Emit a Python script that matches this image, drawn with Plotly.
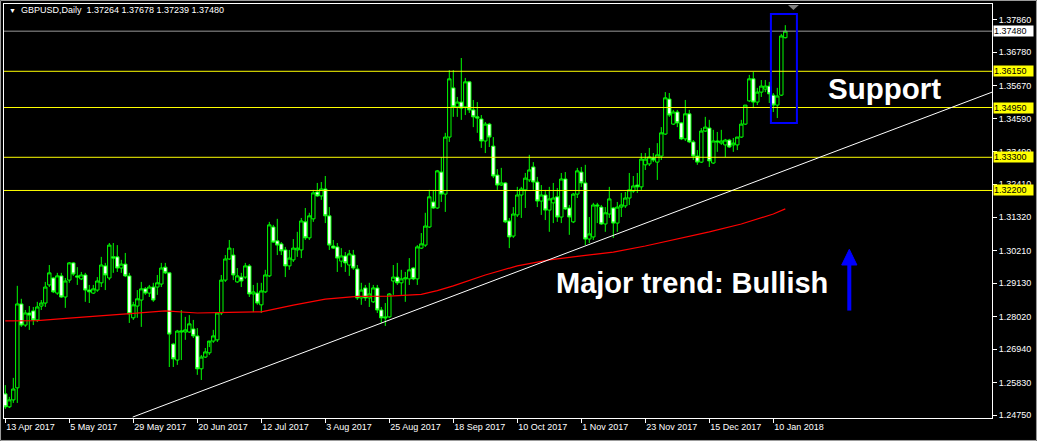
import pandas as pd
import plotly.graph_objects as go

symbol = "GBPUSD"
timeframe = "Daily"
start_date = "2017-04-13"
holidays = ["2017-12-25", "2018-01-01"]

opens = [1.2546, 1.2503, 1.2526, 1.2566, 1.2844, 1.2774, 1.2814, 1.2821, 1.2791, 1.2837,
         1.2847, 1.2907, 1.2930, 1.2880, 1.2937, 1.2867, 1.2923, 1.2980, 1.2937, 1.2927,
         1.2940, 1.2890, 1.2880, 1.2890, 1.2914, 1.2970, 1.2930, 1.3000, 1.3000, 1.2963,
         1.2976, 1.2937, 1.2798, 1.2837, 1.2857, 1.2894, 1.2880, 1.2900, 1.2900, 1.2910,
         1.2966, 1.2947, 1.2711, 1.2658, 1.2751, 1.2751, 1.2751, 1.2761, 1.2738, 1.2629,
         1.2668, 1.2682, 1.2721, 1.2725, 1.2814, 1.2923, 1.2993, 1.3006, 1.2917, 1.2933,
         1.2933, 1.2970, 1.2877, 1.2880, 1.2841, 1.2884, 1.2937, 1.3099, 1.3053, 1.3043,
         1.3023, 1.2970, 1.2990, 1.3023, 1.3023, 1.3116, 1.3063, 1.3126, 1.3215, 1.3202,
         1.3225, 1.3136, 1.3036, 1.3033, 1.2986, 1.3003, 1.2973, 1.3006, 1.2960, 1.2864,
         1.2897, 1.2864, 1.2851, 1.2897, 1.2824, 1.2801, 1.2801, 1.2920, 1.2933, 1.2914,
         1.2927, 1.2927, 1.2963, 1.2927, 1.3029, 1.3039, 1.3099, 1.3182, 1.3162, 1.3281,
         1.3208, 1.3397, 1.3560, 1.3497, 1.3513, 1.3497, 1.3580, 1.3487, 1.3464, 1.3457,
         1.3384, 1.3440, 1.3367, 1.3271, 1.3238, 1.3245, 1.3119, 1.3069, 1.3139, 1.3205,
         1.3222, 1.3255, 1.3298, 1.3248, 1.3185, 1.3205, 1.3155, 1.3179, 1.3199, 1.3132,
         1.3258, 1.3162, 1.3116, 1.3208, 1.3281, 1.3245, 1.3059, 1.3066, 1.3172, 1.3165,
         1.3109, 1.3142, 1.3162, 1.3112, 1.3165, 1.3169, 1.3195, 1.3218, 1.3238, 1.3232,
         1.3305, 1.3308, 1.3328, 1.3314, 1.3334, 1.3407, 1.3523, 1.3440, 1.3480, 1.3444,
         1.3391, 1.3474, 1.3381, 1.3334, 1.3314, 1.3417, 1.3427, 1.3311, 1.3384, 1.3377,
         1.3371, 1.3387, 1.3371, 1.3371, 1.3397, 1.3440, 1.3517, 1.3590, 1.3513, 1.3546,
         1.3556, 1.3566, 1.3536, 1.3503, 1.3536, 1.37264]

highs = [1.2575, 1.2536, 1.2599, 1.2904, 1.2861, 1.2824, 1.2837, 1.2834, 1.2851, 1.2857,
         1.2917, 1.2973, 1.2933, 1.2947, 1.2947, 1.2930, 1.2983, 1.2983, 1.2966, 1.2950,
         1.2947, 1.2907, 1.2907, 1.2933, 1.3000, 1.2980, 1.3046, 1.3046, 1.3039, 1.2990,
         1.3013, 1.2947, 1.2851, 1.2890, 1.2917, 1.2900, 1.2907, 1.2914, 1.2940, 1.2980,
         1.2980, 1.2950, 1.2715, 1.2758, 1.2824, 1.2801, 1.2807, 1.2791, 1.2764, 1.2675,
         1.2698, 1.2701, 1.2758, 1.2817, 1.2940, 1.3006, 1.3056, 1.3029, 1.2963, 1.2947,
         1.2980, 1.2976, 1.2907, 1.2914, 1.2914, 1.2957, 1.3116, 1.3106, 1.3126, 1.3049,
         1.3033, 1.3023, 1.3059, 1.3083, 1.3129, 1.3162, 1.3146, 1.3222, 1.3245, 1.3248,
         1.3268, 1.3165, 1.3056, 1.3046, 1.3029, 1.3016, 1.3023, 1.3023, 1.2973, 1.2914,
         1.2907, 1.2914, 1.2907, 1.2907, 1.2834, 1.2847, 1.2880, 1.2973, 1.2980, 1.2957,
         1.2950, 1.2996, 1.2966, 1.3039, 1.3079, 1.3146, 1.3222, 1.3222, 1.3288, 1.3331,
         1.3411, 1.3619, 1.3619, 1.3530, 1.3659, 1.3593, 1.3583, 1.3520, 1.3513, 1.3470,
         1.3447, 1.3444, 1.3397, 1.3291, 1.3295, 1.3248, 1.3129, 1.3165, 1.3232, 1.3232,
         1.3278, 1.3338, 1.3314, 1.3265, 1.3238, 1.3222, 1.3232, 1.3245, 1.3228, 1.3278,
         1.3281, 1.3172, 1.3212, 1.3295, 1.3298, 1.3305, 1.3132, 1.3179, 1.3179, 1.3172,
         1.3165, 1.3232, 1.3165, 1.3182, 1.3212, 1.3215, 1.3278, 1.3268, 1.3278, 1.3344,
         1.3344, 1.3361, 1.3344, 1.3377, 1.3430, 1.3546, 1.3543, 1.3487, 1.3487, 1.3447,
         1.3520, 1.3487, 1.3387, 1.3354, 1.3427, 1.3464, 1.3454, 1.3421, 1.3414, 1.3421,
         1.3391, 1.3391, 1.3394, 1.3397, 1.3454, 1.3503, 1.3603, 1.3613, 1.3560, 1.3586,
         1.3586, 1.3580, 1.3543, 1.3560, 1.3739, 1.37678]

lows = [1.2496, 1.2499, 1.2516, 1.2516, 1.2768, 1.2768, 1.2758, 1.2774, 1.2784, 1.2824,
        1.2834, 1.2900, 1.2880, 1.2874, 1.2864, 1.2831, 1.2914, 1.2937, 1.2907, 1.2923,
        1.2851, 1.2847, 1.2877, 1.2884, 1.2900, 1.2890, 1.2923, 1.2947, 1.2950, 1.2947,
        1.2933, 1.2781, 1.2791, 1.2798, 1.2768, 1.2874, 1.2867, 1.2851, 1.2874, 1.2900,
        1.2943, 1.2635, 1.2635, 1.2642, 1.2658, 1.2725, 1.2748, 1.2731, 1.2609, 1.2592,
        1.2665, 1.2675, 1.2715, 1.2718, 1.2807, 1.2917, 1.2990, 1.2923, 1.2914, 1.2900,
        1.2927, 1.2867, 1.2817, 1.2841, 1.2814, 1.2880, 1.2933, 1.3046, 1.3006, 1.3006,
        1.2933, 1.2957, 1.2983, 1.3000, 1.2996, 1.3056, 1.3056, 1.3116, 1.3199, 1.3189,
        1.3112, 1.3023, 1.3026, 1.2950, 1.2966, 1.2950, 1.2937, 1.2957, 1.2857, 1.2841,
        1.2854, 1.2834, 1.2847, 1.2814, 1.2781, 1.2771, 1.2798, 1.2874, 1.2907, 1.2874,
        1.2851, 1.2907, 1.2923, 1.2907, 1.3026, 1.3033, 1.3096, 1.3159, 1.3159, 1.3182,
        1.3149, 1.3381, 1.3464, 1.3464, 1.3454, 1.3470, 1.3477, 1.3430, 1.3411, 1.3361,
        1.3344, 1.3364, 1.3261, 1.3222, 1.3235, 1.3112, 1.3029, 1.3063, 1.3132, 1.3129,
        1.3162, 1.3248, 1.3222, 1.3165, 1.3139, 1.3122, 1.3083, 1.3112, 1.3116, 1.3112,
        1.3155, 1.3073, 1.3112, 1.3195, 1.3232, 1.3039, 1.3046, 1.3056, 1.3112, 1.3106,
        1.3083, 1.3129, 1.3063, 1.3083, 1.3132, 1.3162, 1.3172, 1.3212, 1.3212, 1.3222,
        1.3288, 1.3301, 1.3314, 1.3255, 1.3321, 1.3404, 1.3464, 1.3437, 1.3430, 1.3387,
        1.3384, 1.3377, 1.3321, 1.3305, 1.3311, 1.3414, 1.3298, 1.3308, 1.3348, 1.3371,
        1.3331, 1.3361, 1.3348, 1.3354, 1.3394, 1.3437, 1.3513, 1.3493, 1.3503, 1.3530,
        1.3546, 1.3510, 1.3480, 1.3460, 1.3533, 1.37239]

closes = [1.2503, 1.2526, 1.2562, 1.2844, 1.2774, 1.2814, 1.2807, 1.2791, 1.2834, 1.2847,
          1.2900, 1.2947, 1.2884, 1.2937, 1.2867, 1.2920, 1.2980, 1.2943, 1.2933, 1.2940,
          1.2890, 1.2884, 1.2894, 1.2920, 1.2973, 1.2940, 1.3039, 1.2996, 1.2963, 1.2976,
          1.2937, 1.2811, 1.2841, 1.2861, 1.2894, 1.2880, 1.2900, 1.2857, 1.2914, 1.2963,
          1.2947, 1.2744, 1.2662, 1.2754, 1.2754, 1.2758, 1.2778, 1.2738, 1.2629, 1.2668,
          1.2685, 1.2721, 1.2738, 1.2814, 1.2923, 1.2993, 1.3029, 1.2940, 1.2937, 1.2920,
          1.2970, 1.2877, 1.2884, 1.2847, 1.2887, 1.2940, 1.3106, 1.3049, 1.3039, 1.3020,
          1.2970, 1.2996, 1.3029, 1.3029, 1.3119, 1.3063, 1.3136, 1.3212, 1.3202, 1.3225,
          1.3136, 1.3039, 1.3029, 1.2996, 1.3003, 1.2980, 1.3010, 1.2963, 1.2864, 1.2890,
          1.2864, 1.2877, 1.2897, 1.2824, 1.2798, 1.2798, 1.2877, 1.2933, 1.2914, 1.2927,
          1.2930, 1.2957, 1.2927, 1.3033, 1.3043, 1.3102, 1.3199, 1.3162, 1.3285, 1.3208,
          1.3397, 1.3590, 1.3497, 1.3513, 1.3493, 1.3580, 1.3487, 1.3464, 1.3460, 1.3384,
          1.3440, 1.3397, 1.3268, 1.3238, 1.3245, 1.3116, 1.3066, 1.3142, 1.3205, 1.3225,
          1.3261, 1.3288, 1.3248, 1.3185, 1.3205, 1.3155, 1.3192, 1.3195, 1.3132, 1.3258,
          1.3159, 1.3132, 1.3208, 1.3285, 1.3245, 1.3059, 1.3076, 1.3172, 1.3169, 1.3109,
          1.3146, 1.3192, 1.3112, 1.3165, 1.3172, 1.3195, 1.3222, 1.3235, 1.3232, 1.3324,
          1.3324, 1.3331, 1.3321, 1.3338, 1.3411, 1.3527, 1.3470, 1.3480, 1.3444, 1.3391,
          1.3474, 1.3381, 1.3334, 1.3314, 1.3417, 1.3430, 1.3318, 1.3384, 1.3381, 1.3384,
          1.3387, 1.3364, 1.3377, 1.3397, 1.3440, 1.3503, 1.3590, 1.3513, 1.3546, 1.3566,
          1.3566, 1.3540, 1.3503, 1.3533, 1.3732, 1.37480]

# moving average (red line), read at every 8th bar
ma_bars = [0, 8, 16, 24, 32, 40, 48, 56, 64, 72, 80, 88, 96, 104, 108, 112, 120, 128,
           136, 144, 152, 160, 168, 176, 184, 192, 195]
ma_values = [1.2788, 1.2789, 1.2797, 1.2804, 1.2813, 1.2821, 1.2814, 1.2816, 1.2818, 1.2840,
             1.2860, 1.2869, 1.2870, 1.2876, 1.2888, 1.2904, 1.2940, 1.2970, 1.2990, 1.3003,
             1.3016, 1.3036, 1.3059, 1.3083, 1.3109, 1.3142, 1.3159]

level_prices = [1.36150, 1.34950, 1.33300, 1.32200]
price_ticks = [1.37860, 1.36780, 1.35670, 1.34590, 1.33490, 1.32410, 1.31320,
               1.30210, 1.29130, 1.28020, 1.26940, 1.25830, 1.24750]
date_tick_step = 16

# drawn objects (bar index, price)
trend_bars = [31.85, 246.7]
trend_prices = [1.2469, 1.3546]
box_bars = [191.4, 197.9]
box_prices = [1.3444, 1.3805]
arrow_bar = 211
arrow_prices = [1.2822, 1.2973, 1.3025]   # tail, head base, tip
arrow_half = 1.9
support_pos = (219.7, 1.3557)
trend_text_pos = (171.7, 1.2912)

x_range = [-0.325, 246.675]
y_range = [1.2466, 1.3838]

n = len(opens)
dates = pd.bdate_range(start_date, periods=n, freq="C", holidays=holidays)
xs = list(range(n))
tick_idx = list(range(0, n, date_tick_step))
tick_text = [f"{dates[i].day} {dates[i].strftime('%b %Y')}" for i in tick_idx]

LIME = "#00FF00"
FONT = "Liberation Sans, Arial, sans-serif"

fig = go.Figure()
fig.add_trace(go.Scatter(x=ma_bars, y=ma_values, mode="lines",
                         line=dict(color="#FF0000", width=1.2), hoverinfo="skip"))
fig.add_trace(go.Candlestick(
    x=xs, open=opens, high=highs, low=lows, close=closes,
    increasing=dict(line=dict(color=LIME, width=1), fillcolor="#000000"),
    decreasing=dict(line=dict(color=LIME, width=1), fillcolor="#FFFFFF"),
    whiskerwidth=0, hoverinfo="skip"))

shapes = []
for lv in level_prices:
    shapes.append(dict(type="line", xref="paper", x0=0, x1=1, yref="y", y0=lv, y1=lv,
                       line=dict(color="#FFFF00", width=1)))
shapes.append(dict(type="line", xref="paper", x0=0, x1=1, yref="y", y0=closes[-1], y1=closes[-1],
                   line=dict(color="#9a9a9a", width=1)))
shapes.append(dict(type="line", xref="x", yref="y", x0=trend_bars[0], y0=trend_prices[0],
                   x1=trend_bars[1], y1=trend_prices[1], line=dict(color="#FFFFFF", width=1)))
shapes.append(dict(type="rect", xref="x", yref="y", x0=box_bars[0], x1=box_bars[1],
                   y0=box_prices[0], y1=box_prices[1], line=dict(color="#0000FF", width=2)))
shapes.append(dict(type="line", xref="x", yref="y", x0=arrow_bar, x1=arrow_bar,
                   y0=arrow_prices[0], y1=arrow_prices[1] + 0.0005,
                   line=dict(color="#0000FF", width=4)))
shapes.append(dict(type="path", xref="x", yref="y",
                   path=f"M {arrow_bar - arrow_half},{arrow_prices[1]} L {arrow_bar + arrow_half},{arrow_prices[1]} "
                        f"L {arrow_bar},{arrow_prices[2]} Z",
                   fillcolor="#0000FF", line=dict(color="#0000FF", width=1)))
# chart-shift marker at top
shapes.append(dict(type="path", xref="paper", yref="paper",
                   path="M 0.7935,0.9976 L 0.8045,0.9976 L 0.7990,0.9855 Z",
                   fillcolor="#808080", line=dict(color="#808080", width=0)))
# outer window frame
shapes.append(dict(type="rect", xref="paper", yref="paper", x0=-0.0035, x1=1.0450,
                   y0=-0.0543, y1=1.0085, line=dict(color="#a0a0a0", width=1)))

annotations = []
for lv in level_prices:
    annotations.append(dict(x=1, xref="paper", y=lv, yref="y", xanchor="left", yanchor="middle",
                            text=f"{lv:.5f}", showarrow=False, xshift=1, width=39, height=10,
                            align="left", borderpad=0, bgcolor="#FFFF00",
                            font=dict(family=FONT, size=9, color="#000000")))
annotations.append(dict(x=1, xref="paper", y=closes[-1], yref="y", xanchor="left", yanchor="middle",
                        text=f"{closes[-1]:.5f}", showarrow=False, xshift=1, width=39, height=10,
                        align="left", borderpad=0, bgcolor="#FFFFFF",
                        font=dict(family=FONT, size=9, color="#000000")))
title_text = (f"<span style='font-size:7px'>▼</span>\u00a0\u00a0{symbol},{timeframe}\u00a0\u00a0"
              f"{opens[-1]:.5f} {highs[-1]:.5f} {lows[-1]:.5f} {closes[-1]:.5f}")
annotations.append(dict(x=0.003, xref="paper", y=0.9855, yref="paper", xanchor="left",
                        yanchor="middle", text=title_text, showarrow=False,
                        font=dict(family=FONT, size=9, color="#FFFFFF")))
annotations.append(dict(x=support_pos[0], y=support_pos[1], xref="x", yref="y",
                        text="<b>Support</b>", showarrow=False, xanchor="center", yanchor="middle",
                        font=dict(family=FONT, size=29.5, color="#FFFFFF")))
annotations.append(dict(x=trend_text_pos[0], y=trend_text_pos[1], xref="x", yref="y",
                        text="<b>Major trend: Bullish</b>", showarrow=False, xanchor="center",
                        yanchor="middle", font=dict(family=FONT, size=29, color="#FFFFFF")))

fig.update_layout(
    width=1037, height=441,
    margin=dict(l=4, r=45, t=4, b=23),
    paper_bgcolor="#000000", plot_bgcolor="#000000",
    showlegend=False,
    boxgap=0.15, boxgroupgap=0,
    shapes=shapes, annotations=annotations,
    xaxis=dict(range=x_range, rangeslider=dict(visible=False), showgrid=False, zeroline=False,
               showline=True, linecolor="#FFFFFF", linewidth=1, mirror=True,
               ticks="outside", ticklen=4, tickcolor="#FFFFFF",
               tickvals=tick_idx, ticktext=tick_text, ticklabelposition="outside right",
               tickfont=dict(family=FONT, size=9, color="#FFFFFF")),
    yaxis=dict(range=y_range, side="right", showgrid=False, zeroline=False,
               showline=True, linecolor="#FFFFFF", linewidth=1, mirror=True,
               ticks="outside", ticklen=4, tickcolor="#FFFFFF",
               tickvals=price_ticks, ticktext=[f"{v:.5f}" for v in price_ticks],
               tickfont=dict(family=FONT, size=9, color="#FFFFFF")),
)

fig.write_html("out.html", config={"displayModeBar": False},
               post_script="document.body.style.margin='0';")
